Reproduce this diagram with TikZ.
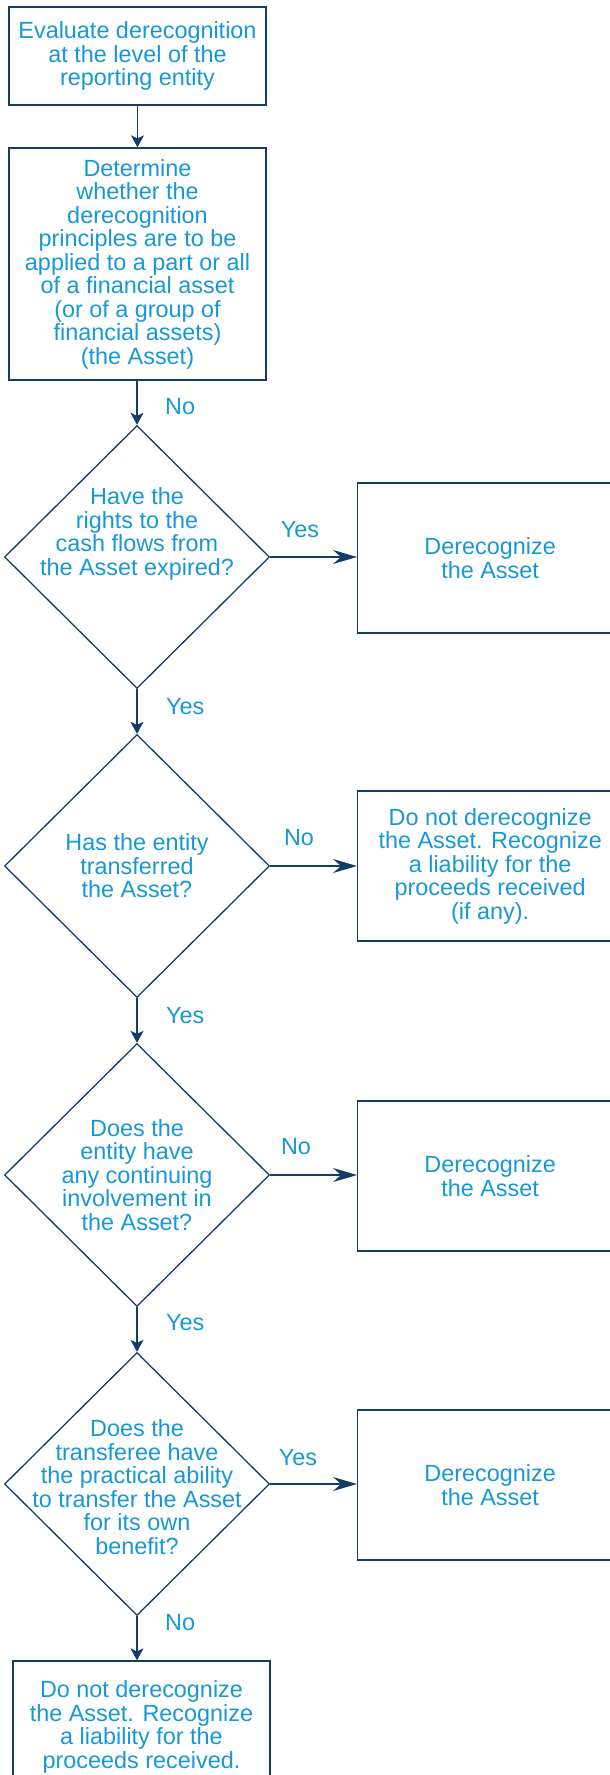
\documentclass[tikz,border=0pt]{standalone}
\usepackage{fontspec}
\setmainfont{Liberation Sans}
\usetikzlibrary{shapes.geometric,arrows.meta}
\definecolor{txtblue}{HTML}{1798D6}
\definecolor{linenavy}{HTML}{143C68}
\begin{document}
\begin{tikzpicture}[x=1pt,y=-1pt,
  every node/.style={font=\fontsize{23.4}{23.5}\selectfont, text=txtblue},
  box/.style={draw=linenavy, line width=1.3pt, rectangle, minimum width=257pt, inner sep=0pt, align=center},
  rbox/.style={draw=linenavy, line width=1.3pt, rectangle, minimum width=265pt, minimum height=150pt, inner sep=0pt, align=center},
  dia/.style={draw=linenavy, line width=1.3pt, diamond, minimum width=265pt, minimum height=263pt, inner sep=0pt},
  dtxt/.style={inner sep=0pt, align=center},
  lbl/.style={inner sep=0pt},
  darr/.style={draw=linenavy, line width=1.3pt, -{Stealth[length=12pt,width=13pt,inset=3pt]}},
  rarr/.style={draw=linenavy, line width=1.3pt, -{Stealth[length=24pt,width=14pt,inset=8pt]}}
]
\useasboundingbox (0,0) rectangle (610,1775);
\clip (0,0) rectangle (610,1775);

% main column
\node[box, minimum height=98pt] (b1) at (137.5,56) {Evaluate derecognition\\at the level of the\\reporting entity};
\node[box, minimum height=232pt] (b2) at (137.5,264) {Determine\\whether the\\derecognition\\principles are to be\\applied to a part or all\\of a financial asset\\(or of a group of\\financial assets)\\(the Asset)};

\node[dia] (d1) at (137,557) {};
\node[dtxt] (t1) at ([yshift=23pt]d1.center) {Have the\\rights to the\\cash flows from\\the Asset expired?};
\node[dia] (d2) at (137,866) {};
\node[dtxt] (t2) at (d2.center) {Has the entity\\transferred\\the Asset?};
\node[dia] (d3) at (137,1175) {};
\node[dtxt] (t3) at (d3.center) {Does the\\entity have\\any continuing\\involvement in\\the Asset?};
\node[dia] (d4) at (137,1484) {};
\node[dtxt] (t4) at ([yshift=-3pt]d4.center) {Does the\\transferee have\\the practical ability\\to transfer the Asset\\for its own\\benefit?};

\node[box, minimum height=132pt] (b3) at (141.5,1727) {Do not derecognize\\the Asset. Recognize\\a liability for the\\proceeds received.};

% right column
\node[rbox, anchor=west] (r1) at (357,558) {Derecognize\\the Asset};
\node[rbox, anchor=west] (r2) at (357,866) {Do not derecognize\\the Asset. Recognize\\a liability for the\\proceeds received\\(if any).};
\node[rbox, anchor=west] (r3) at (357,1176) {Derecognize\\the Asset};
\node[rbox, anchor=west] (r4) at (357,1485) {Derecognize\\the Asset};

% vertical connectors
\draw[darr] (b1.south) -- (b2.north);
\draw[darr] (b2.south -| d1.north) -- (d1.north);
\draw[darr] (d1.south) -- (d2.north);
\draw[darr] (d2.south) -- (d3.north);
\draw[darr] (d3.south) -- (d4.north);
\draw[darr] (d4.south) -- (d4.south |- b3.north);

% horizontal connectors
\draw[rarr] (d1.east) -- (d1.east -| r1.west);
\draw[rarr] (d2.east) -- (d2.east -| r2.west);
\draw[rarr] (d3.east) -- (d3.east -| r3.west);
\draw[rarr] (d4.east) -- (d4.east -| r4.west);

% labels
\node[lbl, anchor=west] (l1) at (165,407) {No};
\node[lbl, anchor=west] (l2) at (166,707) {Yes};
\node[lbl, anchor=west] (l3) at (166,1016) {Yes};
\node[lbl, anchor=west] (l4) at (166,1323) {Yes};
\node[lbl, anchor=west] (l5) at (165,1623) {No};
\node[lbl] (l6) at (300,530) {Yes};
\node[lbl] (l7) at (299,838) {No};
\node[lbl] (l8) at (296,1147) {No};
\node[lbl] (l9) at (298,1458) {Yes};
\end{tikzpicture}
\end{document}
